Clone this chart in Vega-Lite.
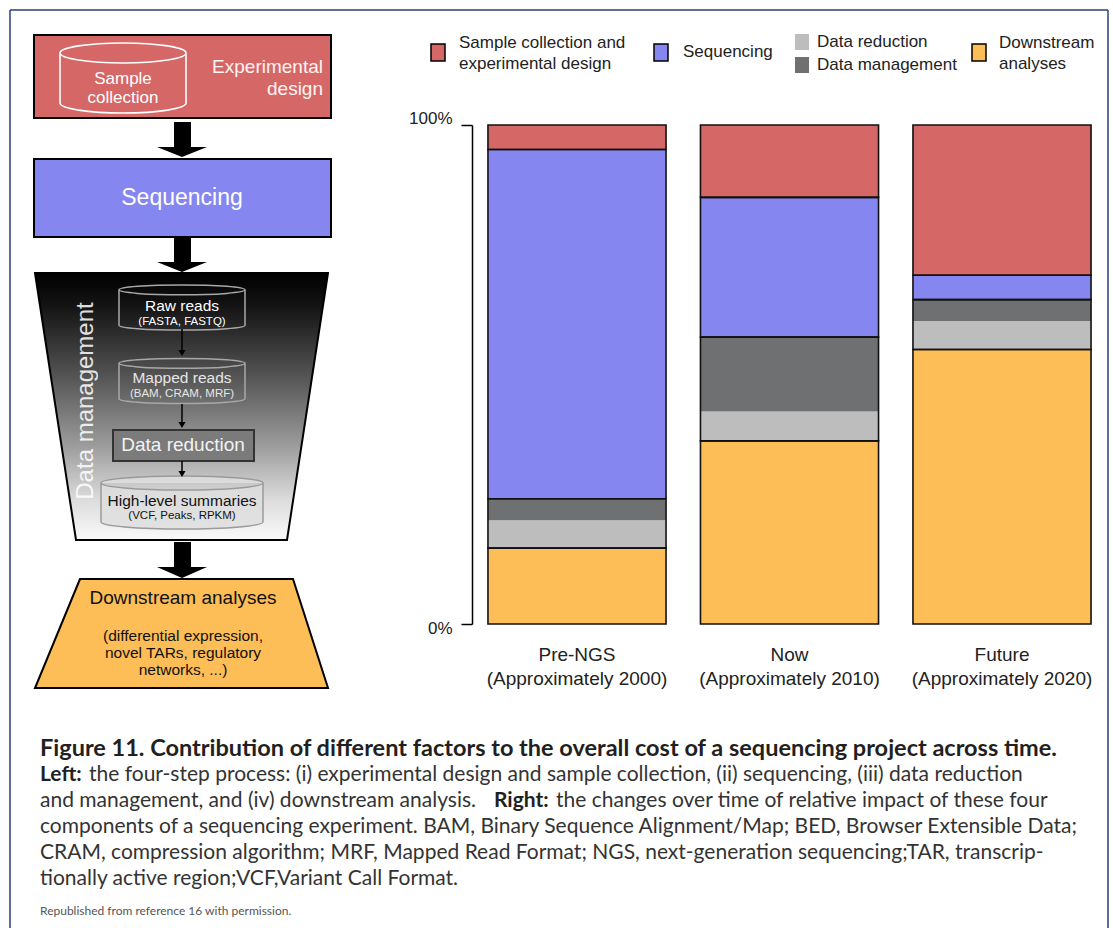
{
  "$schema": "https://vega.github.io/schema/vega-lite/v6.json",
  "width": 1113,
  "height": 928,
  "autosize": {"type": "none"},
  "padding": 0,
  "background": "white",
  "config": {"view": {"stroke": null}, "font": "Liberation Sans"},
  "datasets": {
    "border": [
      {"x": 10, "y": 10, "x2": 1108, "y2": 10},
      {"x": 10, "y": 10, "x2": 10, "y2": 928},
      {"x": 1108, "y": 10, "x2": 1108, "y2": 928}
    ],
    "polys": [
      {"id": "funnel", "y": 273, "x": 35, "x2": 328},
      {"id": "funnel", "y": 540, "x": 76, "x2": 287},
      {"id": "down", "y": 579, "x": 80, "x2": 293},
      {"id": "down", "y": 688, "x": 35, "x2": 328},
      {"id": "h1", "y": 147, "x": 157, "x2": 207},
      {"id": "h1", "y": 157, "x": 182, "x2": 182},
      {"id": "h2", "y": 262, "x": 157, "x2": 207},
      {"id": "h2", "y": 272, "x": 182, "x2": 182},
      {"id": "h3", "y": 567, "x": 157, "x2": 207},
      {"id": "h3", "y": 578, "x": 182, "x2": 182}
    ],
    "shafts": [
      {"x": 174, "x2": 191, "y": 122, "y2": 148},
      {"x": 174, "x2": 191, "y": 238, "y2": 263},
      {"x": 174, "x2": 191, "y": 542, "y2": 568}
    ],
    "boxes": [
      {"kind": "sample", "x": 34, "x2": 331, "y": 35, "y2": 118},
      {"kind": "sequencing", "x": 34, "x2": 331, "y": 159, "y2": 237}
    ],
    "drbox": [
      {"x": 113, "x2": 254, "y": 430, "y2": 461}
    ],
    "cyl": [
      {"c": "A", "x": 123, "y": 78},
      {"c": "B", "x": 182, "y": 307.5},
      {"c": "C", "x": 182, "y": 381},
      {"c": "D", "x": 182, "y": 502.5}
    ],
    "thin": [
      {"x": 182, "y": 329, "x2": 182, "y2": 351},
      {"x": 182, "y": 404, "x2": 182, "y2": 423},
      {"x": 182, "y": 461, "x2": 182, "y2": 472}
    ],
    "heads": [
      {"x": 182, "y": 353},
      {"x": 182, "y": 425},
      {"x": 182, "y": 474}
    ],
    "texts": [
      {"g": "w17c", "x": 123, "y": 79, "t": "Sample"},
      {"g": "w17c", "x": 123, "y": 98, "t": "collection"},
      {"g": "w19r", "x": 323, "y": 67, "t": "Experimental"},
      {"g": "w19r", "x": 323, "y": 89, "t": "design"},
      {"g": "w23c", "x": 182, "y": 198, "t": "Sequencing"},
      {"g": "dm", "x": 86, "y": 401, "t": "Data management"},
      {"g": "w15c", "x": 182, "y": 306, "t": "Raw reads"},
      {"g": "g15c", "x": 182, "y": 378, "t": "Mapped reads"},
      {"g": "w11c", "x": 182, "y": 322, "t": "(FASTA, FASTQ)"},
      {"g": "g11c", "x": 182, "y": 394, "t": "(BAM, CRAM, MRF)"},
      {"g": "dr", "x": 183, "y": 445, "t": "Data reduction"},
      {"g": "b15c", "x": 182, "y": 501, "t": "High-level summaries"},
      {"g": "b11c", "x": 182, "y": 516, "t": "(VCF, Peaks, RPKM)"},
      {"g": "b19c", "x": 183, "y": 598, "t": "Downstream analyses"},
      {"g": "b15c", "x": 183, "y": 636, "t": "(differential expression,"},
      {"g": "b15c", "x": 183, "y": 653, "t": "novel TARs, regulatory"},
      {"g": "b15c", "x": 183, "y": 670, "t": "networks, ...)"},
      {"g": "leg", "x": 459, "y": 43, "t": "Sample collection and"},
      {"g": "leg", "x": 459, "y": 64, "t": "experimental design"},
      {"g": "leg", "x": 683, "y": 52, "t": "Sequencing"},
      {"g": "leg", "x": 817, "y": 42, "t": "Data reduction"},
      {"g": "leg", "x": 817, "y": 65, "t": "Data management"},
      {"g": "leg", "x": 999, "y": 43, "t": "Downstream"},
      {"g": "leg", "x": 999, "y": 64, "t": "analyses"},
      {"g": "capT", "x": 40, "y": 749, "t": "Figure 11. Contribution of different factors to the overall cost of a sequencing project across time."},
      {"g": "capB", "x": 40, "y": 775, "t": "Left:"},
      {"g": "cap", "x": 89, "y": 775, "t": "the four-step process: (i) experimental design and sample collection, (ii) sequencing, (iii) data reduction"},
      {"g": "cap", "x": 40, "y": 801, "t": "and management, and (iv) downstream analysis."},
      {"g": "capB", "x": 494, "y": 801, "t": "Right:"},
      {"g": "cap", "x": 556, "y": 801, "t": "the changes over time of relative impact of these four"},
      {"g": "cap", "x": 40, "y": 827, "t": "components of a sequencing experiment. BAM, Binary Sequence Alignment/Map; BED, Browser Extensible Data;"},
      {"g": "cap", "x": 40, "y": 853, "t": "CRAM, compression algorithm; MRF, Mapped Read Format; NGS, next-generation sequencing;TAR, transcrip-"},
      {"g": "cap", "x": 40, "y": 879, "t": "tionally active region;VCF,Variant Call Format."},
      {"g": "rep", "x": 40, "y": 911, "t": "Republished from reference 16 with permission."}
    ],
    "legend": [
      {"kind": "sample", "x": 431, "x2": 445, "y": 44, "y2": 61},
      {"kind": "sequencing", "x": 654, "x2": 668, "y": 44, "y2": 61},
      {"kind": "reduction", "x": 795, "x2": 809, "y": 34, "y2": 50},
      {"kind": "management", "x": 795, "x2": 809, "y": 57, "y2": 73},
      {"kind": "downstream", "x": 972, "x2": 986, "y": 44, "y2": 61}
    ],
    "costs": [
      {"period": "Pre-NGS|(Approximately 2000)", "component": "Downstream analyses", "box": "Downstream", "ord": 1, "value": 15.2},
      {"period": "Pre-NGS|(Approximately 2000)", "component": "Data reduction", "box": "Data", "ord": 2, "value": 5.6},
      {"period": "Pre-NGS|(Approximately 2000)", "component": "Data management", "box": "Data", "ord": 3, "value": 4.3},
      {"period": "Pre-NGS|(Approximately 2000)", "component": "Sequencing", "box": "Sequencing", "ord": 4, "value": 70.0},
      {"period": "Pre-NGS|(Approximately 2000)", "component": "Sample collection and experimental design", "box": "Sample", "ord": 5, "value": 4.9},
      {"period": "Now|(Approximately 2010)", "component": "Downstream analyses", "box": "Downstream", "ord": 1, "value": 36.7},
      {"period": "Now|(Approximately 2010)", "component": "Data reduction", "box": "Data", "ord": 2, "value": 5.9},
      {"period": "Now|(Approximately 2010)", "component": "Data management", "box": "Data", "ord": 3, "value": 14.9},
      {"period": "Now|(Approximately 2010)", "component": "Sequencing", "box": "Sequencing", "ord": 4, "value": 28.0},
      {"period": "Now|(Approximately 2010)", "component": "Sample collection and experimental design", "box": "Sample", "ord": 5, "value": 14.5},
      {"period": "Future|(Approximately 2020)", "component": "Downstream analyses", "box": "Downstream", "ord": 1, "value": 55.0},
      {"period": "Future|(Approximately 2020)", "component": "Data reduction", "box": "Data", "ord": 2, "value": 5.7},
      {"period": "Future|(Approximately 2020)", "component": "Data management", "box": "Data", "ord": 3, "value": 4.3},
      {"period": "Future|(Approximately 2020)", "component": "Sequencing", "box": "Sequencing", "ord": 4, "value": 4.9},
      {"period": "Future|(Approximately 2020)", "component": "Sample collection and experimental design", "box": "Sample", "ord": 5, "value": 30.1}
    ]
  },
  "layer": [
    {
      "layer": [
        {
          "data": {"name": "border"},
          "mark": {"type": "rule", "stroke": "#2e3d7c", "strokeWidth": 1.5},
          "encoding": {
            "x": {"field": "x", "type": "quantitative", "scale": {"domain": [0, 1113], "nice": false, "zero": false}, "axis": null},
            "y": {"field": "y", "type": "quantitative", "scale": {"domain": [0, 928], "nice": false, "zero": false, "reverse": true}, "axis": null},
            "x2": {"field": "x2"},
            "y2": {"field": "y2"}
          }
        },
        {
          "data": {"name": "polys"},
          "transform": [{"filter": "datum.id == 'funnel'"}],
          "mark": {"type": "area", "orient": "horizontal", "stroke": "black", "strokeWidth": 2,
            "fill": {"gradient": "linear", "x1": 0, "y1": 0, "x2": 0, "y2": 1,
              "stops": [
                {"offset": 0, "color": "#000000"},
                {"offset": 0.13, "color": "#151515"},
                {"offset": 0.39, "color": "#555555"},
                {"offset": 0.64, "color": "#9a9a9a"},
                {"offset": 0.85, "color": "#dcdcdc"},
                {"offset": 1, "color": "#fafafa"}
              ]}},
          "encoding": {
            "y": {"field": "y", "type": "quantitative", "scale": {"domain": [0, 928], "nice": false, "zero": false, "reverse": true}, "axis": null},
            "x": {"field": "x", "type": "quantitative", "scale": {"domain": [0, 1113], "nice": false, "zero": false}, "axis": null},
            "x2": {"field": "x2"}
          }
        },
        {
          "data": {"name": "polys"},
          "transform": [{"filter": "datum.id == 'down'"}],
          "mark": {"type": "area", "orient": "horizontal", "fill": "#fdbd57", "stroke": "black", "strokeWidth": 2},
          "encoding": {
            "y": {"field": "y", "type": "quantitative", "scale": {"domain": [0, 928], "nice": false, "zero": false, "reverse": true}, "axis": null},
            "x": {"field": "x", "type": "quantitative", "scale": {"domain": [0, 1113], "nice": false, "zero": false}, "axis": null},
            "x2": {"field": "x2"}
          }
        },
        {
          "data": {"name": "polys"},
          "transform": [{"filter": "datum.id == 'h1' || datum.id == 'h2' || datum.id == 'h3'"}],
          "mark": {"type": "area", "orient": "horizontal", "fill": "black"},
          "encoding": {
            "y": {"field": "y", "type": "quantitative", "scale": {"domain": [0, 928], "nice": false, "zero": false, "reverse": true}, "axis": null},
            "x": {"field": "x", "type": "quantitative", "scale": {"domain": [0, 1113], "nice": false, "zero": false}, "axis": null},
            "x2": {"field": "x2"},
            "detail": {"field": "id"}
          }
        },
        {
          "data": {"name": "shafts"},
          "mark": {"type": "rect", "fill": "black"},
          "encoding": {
            "x": {"field": "x", "type": "quantitative", "scale": {"domain": [0, 1113], "nice": false, "zero": false}, "axis": null},
            "y": {"field": "y", "type": "quantitative", "scale": {"domain": [0, 928], "nice": false, "zero": false, "reverse": true}, "axis": null},
            "x2": {"field": "x2"},
            "y2": {"field": "y2"}
          }
        },
        {
          "data": {"name": "boxes"},
          "mark": {"type": "rect", "stroke": "black", "strokeWidth": 2},
          "encoding": {
            "x": {"field": "x", "type": "quantitative", "scale": {"domain": [0, 1113], "nice": false, "zero": false}, "axis": null},
            "y": {"field": "y", "type": "quantitative", "scale": {"domain": [0, 928], "nice": false, "zero": false, "reverse": true}, "axis": null},
            "x2": {"field": "x2"},
            "y2": {"field": "y2"},
            "color": {"field": "kind", "type": "nominal", "legend": null,
              "scale": {"domain": ["sample", "sequencing", "reduction", "management", "downstream"], "range": ["#d56767", "#8686f0", "#bdbdbd", "#6f7071", "#fdbd57"]}}
          }
        },
        {
          "data": {"name": "drbox"},
          "mark": {"type": "rect", "fill": "#7b7b7b", "stroke": "#333333", "strokeWidth": 2},
          "encoding": {
            "x": {"field": "x", "type": "quantitative", "scale": {"domain": [0, 1113], "nice": false, "zero": false}, "axis": null},
            "y": {"field": "y", "type": "quantitative", "scale": {"domain": [0, 928], "nice": false, "zero": false, "reverse": true}, "axis": null},
            "x2": {"field": "x2"},
            "y2": {"field": "y2"}
          }
        },
        {
          "data": {"name": "cyl"},
          "transform": [{"filter": "datum.c == 'A'"}],
          "mark": {"type": "point", "filled": false, "opacity": 1, "stroke": "white", "strokeWidth": 1.6, "size": 15876,
            "shape": "M-1,-0.397A1,0.159 0 0,1 1,-0.397A1,0.159 0 0,1 -1,-0.397ZM-1,-0.397L-1,0.397A1,0.159 0 0,0 1,0.397L1,-0.397"},
          "encoding": {
            "x": {"field": "x", "type": "quantitative", "scale": {"domain": [0, 1113], "nice": false, "zero": false}, "axis": null},
            "y": {"field": "y", "type": "quantitative", "scale": {"domain": [0, 928], "nice": false, "zero": false, "reverse": true}, "axis": null}
          }
        },
        {
          "data": {"name": "cyl"},
          "transform": [{"filter": "datum.c == 'B' || datum.c == 'C'"}],
          "mark": {"type": "point", "filled": false, "opacity": 1, "stroke": "#a8a8a8", "strokeWidth": 1.5, "size": 15876,
            "shape": "M-1,-0.28A1,0.079 0 0,1 1,-0.28A1,0.079 0 0,1 -1,-0.28ZM-1,-0.28L-1,0.28A1,0.079 0 0,0 1,0.28L1,-0.28"},
          "encoding": {
            "x": {"field": "x", "type": "quantitative", "scale": {"domain": [0, 1113], "nice": false, "zero": false}, "axis": null},
            "y": {"field": "y", "type": "quantitative", "scale": {"domain": [0, 928], "nice": false, "zero": false, "reverse": true}, "axis": null}
          }
        },
        {
          "data": {"name": "cyl"},
          "transform": [{"filter": "datum.c == 'D'"}],
          "mark": {"type": "point", "filled": true, "opacity": 1, "fill": "#dedede", "fillOpacity": 0.85, "stroke": "#9a9a9a", "strokeWidth": 1.5, "size": 26244,
            "shape": "M-1,-0.241A1,0.086 0 0,1 1,-0.241A1,0.086 0 0,1 -1,-0.241ZM-1,-0.241L-1,0.241A1,0.086 0 0,0 1,0.241L1,-0.241"},
          "encoding": {
            "x": {"field": "x", "type": "quantitative", "scale": {"domain": [0, 1113], "nice": false, "zero": false}, "axis": null},
            "y": {"field": "y", "type": "quantitative", "scale": {"domain": [0, 928], "nice": false, "zero": false, "reverse": true}, "axis": null}
          }
        },
        {
          "data": {"name": "thin"},
          "mark": {"type": "rule", "stroke": "black", "strokeWidth": 1.5},
          "encoding": {
            "x": {"field": "x", "type": "quantitative", "scale": {"domain": [0, 1113], "nice": false, "zero": false}, "axis": null},
            "y": {"field": "y", "type": "quantitative", "scale": {"domain": [0, 928], "nice": false, "zero": false, "reverse": true}, "axis": null},
            "x2": {"field": "x2"},
            "y2": {"field": "y2"}
          }
        },
        {
          "data": {"name": "heads"},
          "mark": {"type": "point", "shape": "triangle-down", "filled": true, "opacity": 1, "fill": "black", "size": 50},
          "encoding": {
            "x": {"field": "x", "type": "quantitative", "scale": {"domain": [0, 1113], "nice": false, "zero": false}, "axis": null},
            "y": {"field": "y", "type": "quantitative", "scale": {"domain": [0, 928], "nice": false, "zero": false, "reverse": true}, "axis": null}
          }
        },
        {
          "data": {"name": "texts"},
          "transform": [{"filter": "datum.g == 'w17c'"}],
          "mark": {"type": "text", "font": "Liberation Sans", "fontSize": 17, "fill": "white", "align": "center", "baseline": "middle"},
          "encoding": {
            "x": {"field": "x", "type": "quantitative", "scale": {"domain": [0, 1113], "nice": false, "zero": false}, "axis": null},
            "y": {"field": "y", "type": "quantitative", "scale": {"domain": [0, 928], "nice": false, "zero": false, "reverse": true}, "axis": null},
            "text": {"field": "t"}
          }
        },
        {
          "data": {"name": "texts"},
          "transform": [{"filter": "datum.g == 'w19r'"}],
          "mark": {"type": "text", "font": "Liberation Sans", "fontSize": 19, "fill": "#fff4f4", "align": "right", "baseline": "middle"},
          "encoding": {
            "x": {"field": "x", "type": "quantitative", "scale": {"domain": [0, 1113], "nice": false, "zero": false}, "axis": null},
            "y": {"field": "y", "type": "quantitative", "scale": {"domain": [0, 928], "nice": false, "zero": false, "reverse": true}, "axis": null},
            "text": {"field": "t"}
          }
        },
        {
          "data": {"name": "texts"},
          "transform": [{"filter": "datum.g == 'w23c'"}],
          "mark": {"type": "text", "font": "Liberation Sans", "fontSize": 23, "fill": "white", "align": "center", "baseline": "middle"},
          "encoding": {
            "x": {"field": "x", "type": "quantitative", "scale": {"domain": [0, 1113], "nice": false, "zero": false}, "axis": null},
            "y": {"field": "y", "type": "quantitative", "scale": {"domain": [0, 928], "nice": false, "zero": false, "reverse": true}, "axis": null},
            "text": {"field": "t"}
          }
        },
        {
          "data": {"name": "texts"},
          "transform": [{"filter": "datum.g == 'dm'"}],
          "mark": {"type": "text", "font": "Liberation Sans", "fontSize": 24, "fill": "white", "opacity": 0.85, "angle": 270, "align": "center", "baseline": "middle"},
          "encoding": {
            "x": {"field": "x", "type": "quantitative", "scale": {"domain": [0, 1113], "nice": false, "zero": false}, "axis": null},
            "y": {"field": "y", "type": "quantitative", "scale": {"domain": [0, 928], "nice": false, "zero": false, "reverse": true}, "axis": null},
            "text": {"field": "t"}
          }
        },
        {
          "data": {"name": "texts"},
          "transform": [{"filter": "datum.g == 'w15c'"}],
          "mark": {"type": "text", "font": "Liberation Sans", "fontSize": 15.5, "fill": "white", "align": "center", "baseline": "middle"},
          "encoding": {
            "x": {"field": "x", "type": "quantitative", "scale": {"domain": [0, 1113], "nice": false, "zero": false}, "axis": null},
            "y": {"field": "y", "type": "quantitative", "scale": {"domain": [0, 928], "nice": false, "zero": false, "reverse": true}, "axis": null},
            "text": {"field": "t"}
          }
        },
        {
          "data": {"name": "texts"},
          "transform": [{"filter": "datum.g == 'g15c'"}],
          "mark": {"type": "text", "font": "Liberation Sans", "fontSize": 15.5, "fill": "#e6e6e6", "align": "center", "baseline": "middle"},
          "encoding": {
            "x": {"field": "x", "type": "quantitative", "scale": {"domain": [0, 1113], "nice": false, "zero": false}, "axis": null},
            "y": {"field": "y", "type": "quantitative", "scale": {"domain": [0, 928], "nice": false, "zero": false, "reverse": true}, "axis": null},
            "text": {"field": "t"}
          }
        },
        {
          "data": {"name": "texts"},
          "transform": [{"filter": "datum.g == 'w11c'"}],
          "mark": {"type": "text", "font": "Liberation Sans", "fontSize": 11.5, "fill": "white", "align": "center", "baseline": "middle"},
          "encoding": {
            "x": {"field": "x", "type": "quantitative", "scale": {"domain": [0, 1113], "nice": false, "zero": false}, "axis": null},
            "y": {"field": "y", "type": "quantitative", "scale": {"domain": [0, 928], "nice": false, "zero": false, "reverse": true}, "axis": null},
            "text": {"field": "t"}
          }
        },
        {
          "data": {"name": "texts"},
          "transform": [{"filter": "datum.g == 'g11c'"}],
          "mark": {"type": "text", "font": "Liberation Sans", "fontSize": 11.5, "fill": "#e6e6e6", "align": "center", "baseline": "middle"},
          "encoding": {
            "x": {"field": "x", "type": "quantitative", "scale": {"domain": [0, 1113], "nice": false, "zero": false}, "axis": null},
            "y": {"field": "y", "type": "quantitative", "scale": {"domain": [0, 928], "nice": false, "zero": false, "reverse": true}, "axis": null},
            "text": {"field": "t"}
          }
        },
        {
          "data": {"name": "texts"},
          "transform": [{"filter": "datum.g == 'dr'"}],
          "mark": {"type": "text", "font": "Liberation Sans", "fontSize": 19, "fill": "#f2f2f2", "align": "center", "baseline": "middle"},
          "encoding": {
            "x": {"field": "x", "type": "quantitative", "scale": {"domain": [0, 1113], "nice": false, "zero": false}, "axis": null},
            "y": {"field": "y", "type": "quantitative", "scale": {"domain": [0, 928], "nice": false, "zero": false, "reverse": true}, "axis": null},
            "text": {"field": "t"}
          }
        },
        {
          "data": {"name": "texts"},
          "transform": [{"filter": "datum.g == 'b15c'"}],
          "mark": {"type": "text", "font": "Liberation Sans", "fontSize": 15.5, "fill": "#111111", "align": "center", "baseline": "middle"},
          "encoding": {
            "x": {"field": "x", "type": "quantitative", "scale": {"domain": [0, 1113], "nice": false, "zero": false}, "axis": null},
            "y": {"field": "y", "type": "quantitative", "scale": {"domain": [0, 928], "nice": false, "zero": false, "reverse": true}, "axis": null},
            "text": {"field": "t"}
          }
        },
        {
          "data": {"name": "texts"},
          "transform": [{"filter": "datum.g == 'b11c'"}],
          "mark": {"type": "text", "font": "Liberation Sans", "fontSize": 11.5, "fill": "#111111", "align": "center", "baseline": "middle"},
          "encoding": {
            "x": {"field": "x", "type": "quantitative", "scale": {"domain": [0, 1113], "nice": false, "zero": false}, "axis": null},
            "y": {"field": "y", "type": "quantitative", "scale": {"domain": [0, 928], "nice": false, "zero": false, "reverse": true}, "axis": null},
            "text": {"field": "t"}
          }
        },
        {
          "data": {"name": "texts"},
          "transform": [{"filter": "datum.g == 'b19c'"}],
          "mark": {"type": "text", "font": "Liberation Sans", "fontSize": 19, "fill": "#111111", "align": "center", "baseline": "middle"},
          "encoding": {
            "x": {"field": "x", "type": "quantitative", "scale": {"domain": [0, 1113], "nice": false, "zero": false}, "axis": null},
            "y": {"field": "y", "type": "quantitative", "scale": {"domain": [0, 928], "nice": false, "zero": false, "reverse": true}, "axis": null},
            "text": {"field": "t"}
          }
        },
        {
          "data": {"name": "legend"},
          "transform": [{"filter": "datum.kind != 'reduction' && datum.kind != 'management'"}],
          "mark": {"type": "rect", "stroke": "black", "strokeWidth": 1.5},
          "encoding": {
            "x": {"field": "x", "type": "quantitative", "scale": {"domain": [0, 1113], "nice": false, "zero": false}, "axis": null},
            "y": {"field": "y", "type": "quantitative", "scale": {"domain": [0, 928], "nice": false, "zero": false, "reverse": true}, "axis": null},
            "x2": {"field": "x2"},
            "y2": {"field": "y2"},
            "color": {"field": "kind", "type": "nominal", "legend": null,
              "scale": {"domain": ["sample", "sequencing", "reduction", "management", "downstream"], "range": ["#d56767", "#8686f0", "#bdbdbd", "#6f7071", "#fdbd57"]}}
          }
        },
        {
          "data": {"name": "legend"},
          "transform": [{"filter": "datum.kind == 'reduction' || datum.kind == 'management'"}],
          "mark": {"type": "rect", "strokeWidth": 0},
          "encoding": {
            "x": {"field": "x", "type": "quantitative", "scale": {"domain": [0, 1113], "nice": false, "zero": false}, "axis": null},
            "y": {"field": "y", "type": "quantitative", "scale": {"domain": [0, 928], "nice": false, "zero": false, "reverse": true}, "axis": null},
            "x2": {"field": "x2"},
            "y2": {"field": "y2"},
            "color": {"field": "kind", "type": "nominal", "legend": null,
              "scale": {"domain": ["sample", "sequencing", "reduction", "management", "downstream"], "range": ["#d56767", "#8686f0", "#bdbdbd", "#6f7071", "#fdbd57"]}}
          }
        },
        {
          "data": {"name": "texts"},
          "transform": [{"filter": "datum.g == 'leg'"}],
          "mark": {"type": "text", "font": "Liberation Sans", "fontSize": 17, "fill": "#222222", "align": "left", "baseline": "middle"},
          "encoding": {
            "x": {"field": "x", "type": "quantitative", "scale": {"domain": [0, 1113], "nice": false, "zero": false}, "axis": null},
            "y": {"field": "y", "type": "quantitative", "scale": {"domain": [0, 928], "nice": false, "zero": false, "reverse": true}, "axis": null},
            "text": {"field": "t"}
          }
        },
        {
          "data": {"name": "texts"},
          "transform": [{"filter": "datum.g == 'capT'"}],
          "mark": {"type": "text", "font": "Lato", "fontWeight": "bold", "fontSize": 23.5, "fill": "#231f20", "align": "left", "baseline": "middle"},
          "encoding": {
            "x": {"field": "x", "type": "quantitative", "scale": {"domain": [0, 1113], "nice": false, "zero": false}, "axis": null},
            "y": {"field": "y", "type": "quantitative", "scale": {"domain": [0, 928], "nice": false, "zero": false, "reverse": true}, "axis": null},
            "text": {"field": "t"}
          }
        },
        {
          "data": {"name": "texts"},
          "transform": [{"filter": "datum.g == 'capB'"}],
          "mark": {"type": "text", "font": "Lato", "fontWeight": "bold", "fontSize": 21, "fill": "#231f20", "align": "left", "baseline": "middle"},
          "encoding": {
            "x": {"field": "x", "type": "quantitative", "scale": {"domain": [0, 1113], "nice": false, "zero": false}, "axis": null},
            "y": {"field": "y", "type": "quantitative", "scale": {"domain": [0, 928], "nice": false, "zero": false, "reverse": true}, "axis": null},
            "text": {"field": "t"}
          }
        },
        {
          "data": {"name": "texts"},
          "transform": [{"filter": "datum.g == 'cap'"}],
          "mark": {"type": "text", "font": "Lato", "fontSize": 21, "fill": "#333333", "align": "left", "baseline": "middle"},
          "encoding": {
            "x": {"field": "x", "type": "quantitative", "scale": {"domain": [0, 1113], "nice": false, "zero": false}, "axis": null},
            "y": {"field": "y", "type": "quantitative", "scale": {"domain": [0, 928], "nice": false, "zero": false, "reverse": true}, "axis": null},
            "text": {"field": "t"}
          }
        },
        {
          "data": {"name": "texts"},
          "transform": [{"filter": "datum.g == 'rep'"}],
          "mark": {"type": "text", "font": "Lato", "fontSize": 12, "fill": "#555555", "align": "left", "baseline": "middle"},
          "encoding": {
            "x": {"field": "x", "type": "quantitative", "scale": {"domain": [0, 1113], "nice": false, "zero": false}, "axis": null},
            "y": {"field": "y", "type": "quantitative", "scale": {"domain": [0, 928], "nice": false, "zero": false, "reverse": true}, "axis": null},
            "text": {"field": "t"}
          }
        }
      ]
    },
    {
      "data": {"name": "costs"},
      "layer": [
        {
          "mark": {"type": "bar", "strokeWidth": 0},
          "encoding": {
            "x": {"field": "period", "type": "nominal",
              "sort": ["Pre-NGS|(Approximately 2000)", "Now|(Approximately 2010)", "Future|(Approximately 2020)"],
              "scale": {"range": [470.75, 1108.25], "paddingInner": 0.162, "paddingOuter": 0.081},
              "axis": {"orient": "bottom", "offset": -304, "title": null, "domain": false, "ticks": false, "tickSize": 0,
                "labelExpr": "split(datum.label, '|')", "labelFont": "Liberation Sans", "labelFontSize": 19, "labelLimit": 0,
                "labelColor": "#222222", "labelLineHeight": 24, "labelPadding": 21, "labelAngle": 0}},
            "y": {"field": "value", "type": "quantitative", "stack": "zero",
              "scale": {"domain": [0, 100], "range": [624, 125], "nice": false},
              "axis": {"orient": "left", "offset": -472, "title": null, "values": [0, 100], "grid": false,
                "labelExpr": "datum.value + '%'", "domainColor": "black", "domainWidth": 1.5,
                "tickColor": "black", "tickWidth": 1.5, "tickSize": 11,
                "labelFont": "Liberation Sans", "labelFontSize": 17, "labelColor": "#222222", "labelPadding": 9,
                "labelOffset": {"condition": {"test": "datum.value == 100", "value": -7}, "value": 4}}},
            "color": {"field": "component", "type": "nominal", "legend": null,
              "scale": {"domain": ["Sample collection and experimental design", "Sequencing", "Data reduction", "Data management", "Downstream analyses"],
                "range": ["#d56767", "#8686f0", "#bdbdbd", "#6f7071", "#fdbd57"]}},
            "order": {"field": "ord"}
          }
        },
        {
          "transform": [
            {"aggregate": [{"op": "sum", "field": "value", "as": "v"}, {"op": "min", "field": "ord", "as": "o"}], "groupby": ["period", "box"]}
          ],
          "mark": {"type": "bar", "color": "black", "fillOpacity": 0, "stroke": "#111111", "strokeWidth": 1.6},
          "encoding": {
            "x": {"field": "period", "type": "nominal",
              "sort": ["Pre-NGS|(Approximately 2000)", "Now|(Approximately 2010)", "Future|(Approximately 2020)"]},
            "y": {"field": "v", "type": "quantitative", "stack": "zero"},
            "order": {"field": "o"}
          }
        }
      ]
    }
  ],
  "resolve": {
    "scale": {"x": "independent", "y": "independent", "color": "independent"},
    "axis": {"x": "independent", "y": "independent"}
  }
}
